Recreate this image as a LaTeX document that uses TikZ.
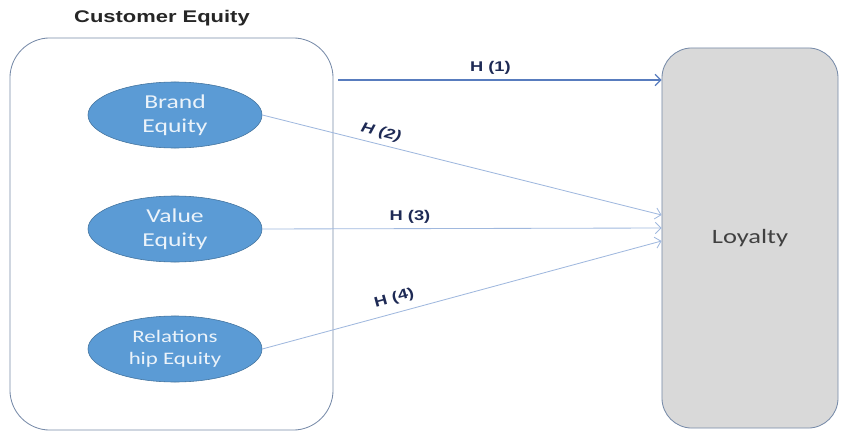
\documentclass[tikz,border=0pt]{standalone}
\usepackage{fontspec}
\setmainfont{Liberation Sans}[FakeStretch=1.3]
\newfontfamily\bodyfont{Carlito}[FakeStretch=1.3]
\usetikzlibrary{arrows.meta, shapes.geometric, calc}
\definecolor{eqblue}{RGB}{91, 155, 213}
\definecolor{eqedge}{RGB}{65, 113, 156}
\definecolor{linkblue}{RGB}{160, 184, 222}
\definecolor{mainblue}{RGB}{88, 124, 190}
\definecolor{labnavy}{RGB}{30, 42, 85}
\definecolor{loygray}{RGB}{217, 217, 217}
\definecolor{boxedge}{RGB}{118, 138, 168}
\tikzset{
  equity/.style={ellipse, draw=eqedge, fill=eqblue, text=white!88!eqblue,
    minimum width=4.35cm, minimum height=1.65cm, inner sep=0pt,
    align=center, font=\bodyfont\fontsize{14}{17}\selectfont},
  hlink/.style={draw=linkblue, line width=0.6pt, -{Straight Barb[length=4pt]}},
  hlab/.style={text=labnavy, font=\bfseries\fontsize{10}{12}\selectfont, above, sloped}
}

\begin{document}
\begin{tikzpicture}[x=0.025cm, y=-0.025cm]
\useasboundingbox (0,0) rectangle (842,433);

% outer boxes
\node[draw=boxedge, rounded corners=1cm, minimum width=8.075cm,
  minimum height=9.8cm, line width=0.6pt] (cust) at (171.5,234) {};
\node[font=\bfseries\fontsize{12}{14}\selectfont, text=black!85] (title) at (162,18) {Customer Equity};
\node[draw=boxedge, fill=loygray, rounded corners=0.75cm, minimum width=4.4cm,
  minimum height=9.5cm, line width=0.6pt, font=\bodyfont\fontsize{14.5}{17}\selectfont,
  text=black!75] (loy) at (750,238) {Loyalty};

% equity parts
\node[equity] (brand) at (175,115) {Brand\\Equity};
\node[equity] (value) at (175,229) {Value\\Equity};
\node[equity, font=\bodyfont\fontsize{12.5}{15.5}\selectfont] (rel) at (175,349) {Relations\\hip Equity};

% hypotheses
\coordinate (h1) at (0,80);
\draw[hlink, draw=mainblue, line width=0.9pt] ($(cust.east |- h1)+(5,0)$) -- (loy.west |- h1)
  node[hlab, pos=0.47] {H (1)};
\draw[hlink] (brand.east) -- ($(loy.west)+(0,-23)$)
  node[hlab, pos=0.29, font=\bfseries\itshape\fontsize{10}{12}\selectfont] {H (2)};
\draw[hlink] (value.east) -- ($(loy.west)+(0,-10)$)
  node[hlab, pos=0.37, sloped=false] {H (3)};
\draw[hlink] (rel.east) -- ($(loy.west)+(0,3)$)
  node[hlab, pos=0.34, yshift=2pt] {H (4)};
\end{tikzpicture}
\end{document}
